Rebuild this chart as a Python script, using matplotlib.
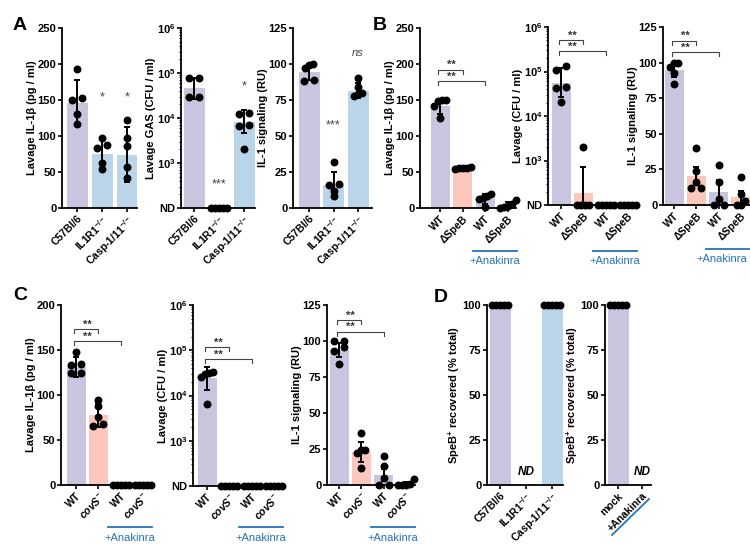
import numpy as np
import matplotlib
matplotlib.use('Agg')
import matplotlib.pyplot as plt
from matplotlib.lines import Line2D
from matplotlib.ticker import LogLocator, NullFormatter
from matplotlib.transforms import blended_transform_factory

plt.rcParams['font.family'] = ['Liberation Sans', 'DejaVu Sans']
plt.rcParams['mathtext.fontset'] = 'custom'
plt.rcParams['mathtext.rm'] = 'Liberation Sans:bold'
plt.rcParams['mathtext.it'] = 'Liberation Sans:italic:bold'
plt.rcParams['mathtext.bf'] = 'Liberation Sans:bold'
plt.rcParams['mathtext.default'] = 'rm'

PURPLE = '#c9c5df'
BLUE = '#bad4e9'
PINK = '#fcc8bd'
ANA = '#2374b8'
GREY = '#444444'
W, H = 750, 545

# ---- data ----
ko_labels = ['C57Bl/6', r'IL1R1$^{-/-}$', r'Casp-1/11$^{-/-}$']
ko_colors = [PURPLE, BLUE, BLUE]
speb_labels = ['WT', 'ΔSpeB', 'WT', 'ΔSpeB']
covs_labels = ['WT', r'$\mathit{covS}^{-}$', 'WT', r'$\mathit{covS}^{-}$']
mut_colors = [PURPLE, PINK, PURPLE, PINK]
ND = 100  # not detected, drawn on the log axis floor

a1_pts = [[193, 153, 150, 130, 117], [97, 87, 83, 62, 54], [122, 97, 86, 57, 41]]
a1_bar = [146, 75, 74]
a1_err = [32, 20, 38]

a2_pts = [[7.8e4, 7.6e4, 3.0e4, 2.9e4], [ND] * 5, [1.3e4, 1.25e4, 7e3, 6.8e3, 2e3]]
a2_bar = [4.6e4, ND, 8.3e3]
a2_err = [0.23, 0, 0.25]  # log10 units

a3_pts = [[100, 99, 97, 89, 88], [32, 17, 16, 12, 8], [90, 84, 80, 79, 78]]
a3_bar = [94.7, 16, 81.5]
a3_err = [5.5, 9, 5]

b1_pts = [[150, 150, 148, 142, 125], [57, 56, 55, 55, 54], [20, 17, 14, 12, 2], [11, 5, 3, 1, 0]]
b1_bar = [141, 54, 13, 4]
b1_err = [10, 1.5, 7, 4]

b2_pts = [[1.3e5, 1.1e5, 4.4e4, 4.3e4, 2.1e4], [2e3, ND, ND, ND, ND], [ND] * 5, [ND] * 5]
b2_bar = [5.6e4, 183, ND, ND]
b2_err = [0.32, 0.6, 0, 0]

b3_pts = [[100, 100, 97, 93, 85], [40, 24, 16, 12, 12], [28, 16, 4, 0, 0], [20, 8, 3, 0, 0]]
b3_bar = [94.8, 20.4, 8.9, 5.4]
b3_err = [5, 6.5, 8.6, 4.6]

c1_pts = [[148, 134, 133, 125, 124], [94, 88, 76, 68, 66], [0] * 5, [0] * 5]
c1_bar = [131, 78, 0, 0]
c1_err = [11, 13, 0, 0]

c2_pts = [[3.3e4, 3.2e4, 3.0e4, 2.6e4, 6.5e3], [ND] * 5, [ND] * 5, [ND] * 5]
c2_bar = [2.4e4, ND, ND, ND]
c2_err = [0.26, 0, 0, 0]

c3_pts = [[100, 100, 96, 93, 84], [36, 24, 24, 22, 12], [20, 13, 5, 0, 0], [4, 1, 0, 0, 0]]
c3_bar = [93.8, 23, 7, 1]
c3_err = [5, 7, 4, 1]

d1_labels = ['C57Bl/6', r'IL1R1$^{-/-}$', r'Casp-1/11$^{-/-}$']
d1_pts = [[100] * 5, [], [100] * 5]
d1_bar = [100, 0, 100]
d2_labels = ['mock', '+Anakinra']
d2_pts = [[100] * 5, []]
d2_bar = [100, 0]

fig = plt.figure(figsize=(W / 100, H / 100), dpi=100)


def ypx(ax, vals):
    return np.array([ax.transData.transform((0, v))[1] for v in vals])


def yshift(ax, y, dpx):
    d = ax.transData.transform((0, y))
    return ax.transData.inverted().transform((d[0], d[1] + dpx))[1]


def swarm(ax, vals, sp):
    # spread points that sit on the same height, GraphPad style
    py = ypx(ax, vals)
    order = np.argsort(py)
    xs = np.zeros(len(vals))
    rows = []
    for i in order:
        if rows and py[i] - py[rows[-1][-1]] < 5.0:
            rows[-1].append(i)
        else:
            rows.append([i])
    for r in rows:
        n = len(r)
        if n == 1:
            continue
        span = 10.0 if n == 2 else 4.0 * (n - 1)
        offs = np.linspace(-span / 2, span / 2, n)
        for k, i in enumerate(r):
            xs[i] = offs[k]
    return xs / sp


def panel(box, c0, sp, labels, colors, pts, bars, errs, ylabel,
          log=False, ymax=100, step=25, wpx=19):
    l, r, t, b = box
    ax = fig.add_axes([l / W, 1 - b / H, (r - l) / W, (b - t) / H])
    x0 = -(c0 - l) / sp
    ax.set_xlim(x0, x0 + (r - l) / sp)
    if log:
        ax.set_yscale('log')
        ax.set_ylim(1e2, 1e6)
        ax.set_yticks([1e2, 1e3, 1e4, 1e5, 1e6])
        ax.set_yticklabels(['ND', '$10^3$', '$10^4$', '$10^5$', '$10^6$'])
        ax.yaxis.set_minor_locator(LogLocator(subs=np.arange(2, 10)))
        ax.yaxis.set_minor_formatter(NullFormatter())
        base = 1e2
    else:
        ax.set_ylim(0, ymax)
        ax.set_yticks(np.arange(0, ymax + 1, step))
        base = 0
    w = wpx / sp
    for i in range(len(labels)):
        bv = bars[i]
        if colors[i] is not None and bv > base:
            ax.bar(i, bv - base, bottom=base, width=w, color=colors[i], zorder=1)
        e = errs[i] if errs is not None else 0
        if e > 0:
            if log:
                yerr = [[bv - bv / 10 ** e], [bv * 10 ** e - bv]]
            else:
                yerr = [[e], [e]]
            ax.errorbar(i, bv, yerr=yerr, fmt='none', ecolor='k', elinewidth=1.4,
                        capsize=2.2, capthick=1.4, zorder=4)
        if len(pts[i]):
            offs = swarm(ax, pts[i], sp)
            ax.plot(i + offs, pts[i], 'o', ms=4.7, color='k', mec='k',
                    clip_on=False, zorder=3)
    ax.set_xticks(range(len(labels)))
    ax.set_xticklabels(labels, rotation=45, ha='right', rotation_mode='anchor',
                       fontsize=7.5, fontweight='bold')
    for lab in ax.get_yticklabels():
        lab.set_fontsize(8)
        lab.set_fontweight('bold')
    ax.set_ylabel(ylabel, fontsize=8, fontweight='bold', labelpad=0.5)
    for s in ['top', 'right']:
        ax.spines[s].set_visible(False)
    for s in ['left', 'bottom']:
        ax.spines[s].set_linewidth(1.3)
    ax.tick_params(which='major', direction='out', length=2.6, width=1.2, pad=1.5)
    ax.tick_params(which='minor', direction='out', length=1.4, width=0.7)
    return ax


def bracket(ax, i, j, y, tick=4):
    yt = yshift(ax, y, -tick)
    ax.plot([i - 0.1, i - 0.1, j, j], [yt, y, y, yt], color=GREY, lw=0.8,
            clip_on=False, zorder=5)


def stars(ax, x, y, s):
    ax.text(x, y, s, ha='center', va='baseline', fontsize=8, color='#333333',
            fontweight='bold')


def anakinra(ax, yline, ytext, xtext=2.42):
    tr = blended_transform_factory(ax.transData, fig.transFigure)
    ax.plot([1.45, 3.4], [1 - yline / H] * 2, color=ANA, lw=1.3, transform=tr,
            clip_on=False)
    ax.text(xtext, 1 - ytext / H, '+Anakinra', color=ANA, fontsize=8, ha='center',
            va='center', transform=tr)


IL1B = 'Lavage IL-1β (pg / ml)'
CFU = 'Lavage (CFU / ml)'
RU = 'IL-1 signaling (RU)'

# Row A
a1 = panel((62, 137, 28, 208), 77, 25, ko_labels, ko_colors, a1_pts, a1_bar, a1_err,
           IL1B, ymax=250, step=50, wpx=21)
a1.text(1, 153, '*', ha='center', va='center', fontsize=9, color=GREY)
a1.text(2, 153, '*', ha='center', va='center', fontsize=9, color=GREY)

a2 = panel((181, 255, 28, 208), 194, 25, ko_labels, ko_colors, a2_pts, a2_bar, a2_err,
           'Lavage GAS (CFU / ml)', log=True, wpx=21)
a2.text(1, 330, '***', ha='center', va='center', fontsize=9, color=GREY)
a2.text(2, 5e4, '*', ha='center', va='center', fontsize=9, color=GREY)

a3 = panel((293, 372, 28, 208), 309, 24.5, ko_labels, ko_colors, a3_pts, a3_bar, a3_err,
           RU, ymax=125, step=25, wpx=21)
a3.text(1, 57, '***', ha='center', va='center', fontsize=9, color=GREY)
a3.text(2, 107.6, 'ns', ha='center', va='center', fontsize=8, color=GREY, style='italic')

# Row B
b1 = panel((420, 516, 28, 208), 440, 22.5, speb_labels, mut_colors, b1_pts, b1_bar, b1_err,
           IL1B, ymax=250, step=50)
bracket(b1, 0, 1, 192)
bracket(b1, 0, 2, 176)
stars(b1, 0.5, 194, '**')
stars(b1, 0.5, 178, '**')
anakinra(b1, 251, 261)

b2 = panel((548, 638, 27, 205), 561, 22.3, speb_labels, mut_colors, b2_pts, b2_bar, b2_err,
           CFU, log=True)
bracket(b2, 0, 1, 5.1e5)
bracket(b2, 0, 2, 2.9e5)
stars(b2, 0.5, 5.4e5, '**')
stars(b2, 0.5, 3.1e5, '**')
anakinra(b2, 251, 261)

b3 = panel((663, 750, 27, 205), 674, 22.3, speb_labels, mut_colors, b3_pts, b3_bar, b3_err,
           RU, ymax=125, step=25)
bracket(b3, 0, 1, 115.4)
bracket(b3, 0, 2, 107.2)
stars(b3, 0.5, 116.5, '**')
stars(b3, 0.5, 108.3, '**')
anakinra(b3, 249, 259, xtext=2.15)

# Row C
c1 = panel((61, 153, 305, 485), 76, 22.3, covs_labels, mut_colors, c1_pts, c1_bar, c1_err,
           IL1B, ymax=200, step=50)
bracket(c1, 0, 1, 173)
bracket(c1, 0, 2, 160)
stars(c1, 0.5, 174.5, '**')
stars(c1, 0.5, 161.5, '**')
anakinra(c1, 527, 538)

c2 = panel((193, 284, 305, 486), 207, 22.3, covs_labels, mut_colors, c2_pts, c2_bar, c2_err,
           CFU, log=True)
bracket(c2, 0, 1, 1.2e5)
bracket(c2, 0, 2, 6.3e4)
stars(c2, 0.5, 1.27e5, '**')
stars(c2, 0.5, 6.7e4, '**')
anakinra(c2, 527, 538)

c3 = panel((327, 415, 305, 485), 339, 22.3, covs_labels, mut_colors, c3_pts, c3_bar, c3_err,
           RU, ymax=125, step=25)
bracket(c3, 0, 1, 114.6)
bracket(c3, 0, 2, 106.5)
stars(c3, 0.5, 115.7, '**')
stars(c3, 0.5, 107.6, '**')
anakinra(c3, 527, 538)

# Row D
SPEB = r'SpeB$^{+}$ recovered (% total)'
d1 = panel((487, 563, 305, 485), 500, 26, d1_labels, [PURPLE, None, BLUE], d1_pts, d1_bar,
           None, SPEB, ymax=100, step=25, wpx=21)
d1.text(1, 7, 'ND', ha='center', va='center', fontsize=8.5, fontweight='bold', style='italic')

d2 = panel((605, 651, 305, 485), 618, 24, d2_labels, [PURPLE, None], d2_pts, d2_bar,
           None, SPEB, ymax=100, step=25, wpx=21)
d2.text(1, 7, 'ND', ha='center', va='center', fontsize=8.5, fontweight='bold', style='italic')
tx = 618 + 24
fig.add_artist(Line2D([(tx + 7) / W, (tx - 30) / W], [1 - (485 + 14) / H, 1 - (485 + 50) / H],
                      color=ANA, lw=1.3, transform=fig.transFigure))

# panel letters
for s, x, y in [('A', 20, 25), ('B', 380, 26), ('C', 20, 296), ('D', 441, 297)]:
    fig.text(x / W, 1 - y / H, s, fontsize=14, fontweight='bold', ha='center', va='center')

fig.savefig('out.png', dpi=100)
